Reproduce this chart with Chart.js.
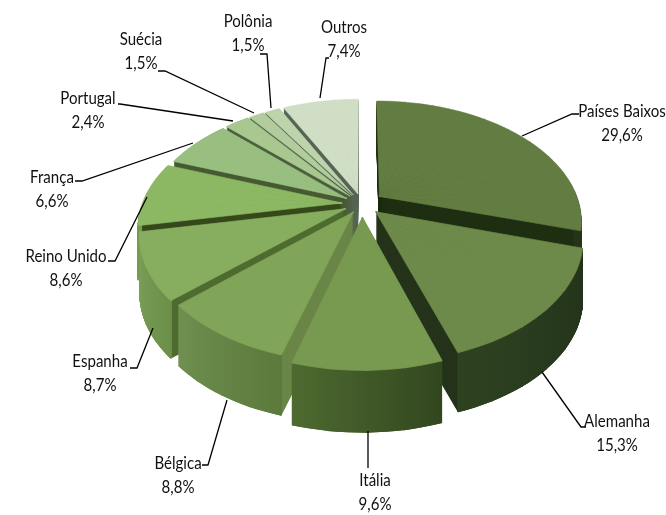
<!DOCTYPE html>
<html>
<head>
<meta charset="utf-8">
<style>
  html, body { margin: 0; padding: 0; background: #fff; }
  canvas { display: block; }
</style>
<script src="https://cdn.jsdelivr.net/npm/chart.js@4"></script>
</head>
<body>
<canvas id="myChart" width="666" height="515"></canvas>
<script>
const categories = ["Países Baixos", "Alemanha", "Itália", "Bélgica", "Espanha", "Reino Unido", "França", "Portugal", "Suécia", "Polônia", "Outros"]
const shares = [29.6, 15.3, 9.6, 8.8, 8.7, 8.6, 6.6, 2.4, 1.5, 1.5, 7.4]

const topColors = ["#627c41", "#6d8a4a", "#779a50", "#80a458", "#87ae5f", "#8cb763", "#99bf80", "#a8c890", "#b2cc9e", "#bcd3ab", "#cfdec5"]
const wallColors = ["#1f2f12", "#24331a", "#4a6a2c", "#6a8647", "#4f6c30", "#36491b", "#465a33", "#4c5f3e", "#4e5e48", "#505f4c", "#566454"]
const rimStart = ["#24331a", "#22321a", "#32461e", "#5b793b", "#6c9049", "#74994f", "#7a9c60", "#8aa873", "#93ad80", "#9bb38a", "#aebfa3"]
const rimEnd = ["#24331a", "#2e4220", "#4e6a30", "#6f9050", "#7ba058", "#7ba058", "#7a9c60", "#8aa873", "#93ad80", "#9bb38a", "#aebfa3"]
const explode = [0.11, 0.095, 0.11, 0.08, 0.09, 0.1, 0.09, 0.09, 0.09, 0.09, 0.09]

// label centre x, first line y, then the leader line points
const labelPos = [
  [622, 111], [617, 421], [375, 480], [178, 463], [100, 361], [66, 256],
  [52, 177], [88, 98], [141, 39], [248, 21], [344, 27]
]
const leaders = [
  [[522, 136], [572, 114], [579, 114]],
  [[542, 372], [581, 427], [586, 427]],
  [[368, 431], [368, 468]],
  [[227, 400], [208, 465], [202, 465]],
  [[153, 328], [137, 368], [130, 368]],
  [[147, 197], [115, 261], [108, 261]],
  [[193, 143], [82, 181], [75, 181]],
  [[233, 121], [120, 104], [118, 104]],
  [[254, 113], [165, 71], [158, 71]],
  [[271, 108], [267, 54], [260, 54]],
  [[320, 98], [326, 58], [329, 58]]
]

// view of the pie plane, front is bigger than back
const CX = 362, CY = 204, RX = 200, RY = 117, PERSP = 0.198, DEPTH = 55
const PIECE = Math.PI / 18

function project(u, v) {
  const f = 1 / (1 - PERSP * v)
  return { x: CX + RX * u * f, y: CY + RY * v * f, f: f }
}

// affine that puts one thin wedge of the arc onto its projected triangle
function pieceMatrix(el, ou, ov, a1, a2) {
  const p0 = project(ou, ov)
  const p1 = project(ou + Math.cos(a1), ov + Math.sin(a1))
  const p2 = project(ou + Math.cos(a2), ov + Math.sin(a2))
  const R = el.outerRadius
  const sx1 = R * Math.cos(a1), sy1 = R * Math.sin(a1)
  const sx2 = R * Math.cos(a2), sy2 = R * Math.sin(a2)
  const det = sx1 * sy2 - sx2 * sy1
  const dx1 = p1.x - p0.x, dy1 = p1.y - p0.y, dx2 = p2.x - p0.x, dy2 = p2.y - p0.y
  const a = (dx1 * sy2 - dx2 * sy1) / det
  const c = (dx2 * sx1 - dx1 * sx2) / det
  const b = (dy1 * sy2 - dy2 * sy1) / det
  const d = (dy2 * sx1 - dy1 * sx2) / det
  return [a, b, c, d, p0.x - a * el.x - c * el.y, p0.y - b * el.x - d * el.y]
}

function mix(c1, c2, t) {
  const n1 = parseInt(c1.slice(1), 16), n2 = parseInt(c2.slice(1), 16)
  const ch = s => Math.round(((n1 >> s) & 255) * (1 - t) + ((n2 >> s) & 255) * t)
  return "rgb(" + ch(16) + "," + ch(8) + "," + ch(0) + ")"
}

function sliceData(el, i) {
  const a1 = el.startAngle, a2 = el.endAngle, mid = (a1 + a2) / 2
  const ou = explode[i] * Math.cos(mid), ov = explode[i] * Math.sin(mid)
  const n = Math.ceil((a2 - a1) / PIECE)
  const pieces = []
  for (let k = 0; k < n; k++) {
    const s = a1 + (a2 - a1) * k / n, e = a1 + (a2 - a1) * (k + 1) / n
    pieces.push({
      s: s, e: e, t0: k / n, t1: (k + 1) / n,
      drawEnd: k < n - 1 ? e + 0.006 : e,
      front: Math.sin((s + e) / 2) > 0,
      m: pieceMatrix(el, ou, ov, s, e)
    })
  }
  const f = project(ou + Math.cos(mid), ov + Math.sin(mid)).f
  return { el: el, i: i, pieces: pieces, depth: DEPTH * Math.sqrt(f), v: Math.sin(mid) }
}

function drawPiece(ctx, el, p, dy, fill, inner, seam) {
  const saved = {
    options: el.options, innerRadius: el.innerRadius, startAngle: el.startAngle,
    endAngle: el.endAngle, circumference: el.circumference
  }
  const extra = { backgroundColor: fill }
  if (seam) Object.assign(extra, { borderColor: fill, borderWidth: 1, borderAlign: "center", borderJoinStyle: "round" })
  el.options = Object.assign({}, saved.options, extra)
  if (inner !== undefined) el.innerRadius = inner
  el.startAngle = p.s
  el.endAngle = p.drawEnd
  el.circumference = p.drawEnd - p.s
  ctx.save()
  ctx.translate(0, dy)
  ctx.transform.apply(ctx, p.m)
  el.draw(ctx)
  ctx.restore()
  Object.assign(el, saved)
}

const pie3d = {
  id: "pie3d",
  beforeDatasetDraw(chart) {
    const ctx = chart.ctx
    const slices = chart.getDatasetMeta(0).data.map(sliceData)
    slices.sort((p, q) => p.v - q.v)
    slices.forEach(({ el, i, pieces, depth }) => {
      const R = el.outerRadius
      for (let k = depth; k > 0; k -= 1) {
        pieces.forEach(p => drawPiece(ctx, el, p, k, wallColors[i]))
      }
      // only the part of the rim that faces the viewer
      pieces.filter(p => p.front).forEach(p => {
        const rim = ctx.createLinearGradient(
          el.x + R * Math.cos(p.s), el.y + R * Math.sin(p.s),
          el.x + R * Math.cos(p.e), el.y + R * Math.sin(p.e))
        rim.addColorStop(0, mix(rimStart[i], rimEnd[i], p.t0))
        rim.addColorStop(1, mix(rimStart[i], rimEnd[i], p.t1))
        for (let k = depth; k > 0; k -= 0.5) drawPiece(ctx, el, p, k, rim, R - 2)
      })
      pieces.forEach(p => drawPiece(ctx, el, p, 0, topColors[i], undefined, true))
    })
    return false
  },
  afterDatasetsDraw(chart) {
    const ctx = chart.ctx
    ctx.save()
    ctx.strokeStyle = "#000"
    ctx.lineWidth = 1.3
    leaders.forEach(pts => {
      ctx.beginPath()
      pts.forEach((p, j) => j ? ctx.lineTo(p[0], p[1]) : ctx.moveTo(p[0], p[1]))
      ctx.stroke()
    })
    ctx.fillStyle = "#111"
    ctx.font = "17.5px Lato"
    ctx.textAlign = "center"
    ctx.textBaseline = "middle"
    categories.forEach((name, i) => {
      const [x, y] = labelPos[i]
      ctx.save()
      ctx.translate(x, y)
      ctx.scale(0.86, 1)
      ctx.fillText(name, 0, 0)
      ctx.fillText(shares[i].toFixed(1).replace(".", ",") + "%", 0, 24.5)
      ctx.restore()
    })
    ctx.restore()
  }
}

const data = {
  labels: categories,
  datasets: [
    {
      data: shares,
      backgroundColor: topColors,
      borderWidth: 0
    }
  ]
}

const config = {
  type: "pie",
  data: data,
  options: {
    responsive: false,
    animation: false,
    plugins: {
      legend: { display: false },
      tooltip: { enabled: false }
    }
  },
  plugins: [pie3d]
}

const MyChart = new Chart(document.getElementById("myChart"), config)
</script>
</body>
</html>
